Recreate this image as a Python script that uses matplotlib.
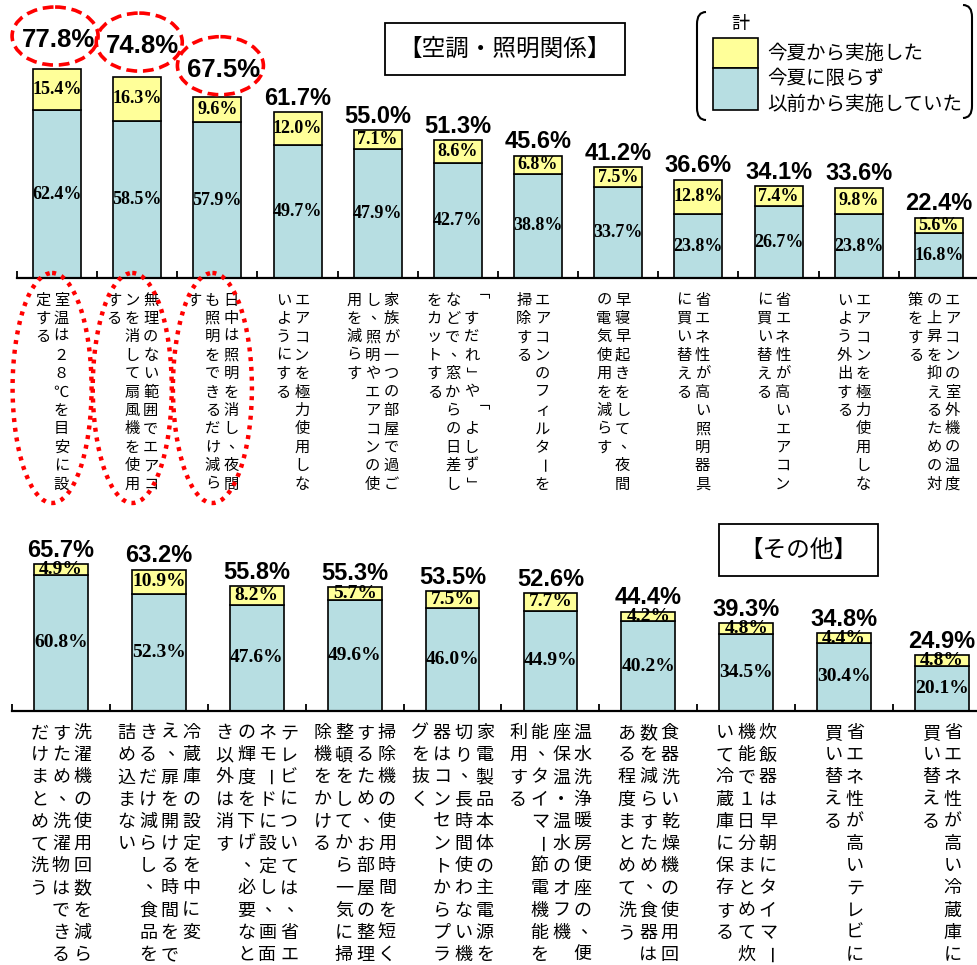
import numpy as np
import matplotlib
matplotlib.use("Agg")
import matplotlib.pyplot as plt
from matplotlib.patches import Rectangle, Ellipse, PathPatch
from matplotlib.path import Path

JP = "Noto Sans CJK JP"
plt.rcParams['font.family'] = [JP, 'DejaVu Sans']

# ---------------- data ----------------
top_categories = [
    ["室温は２８℃を目安に設", "定する"],
    ["無理のない範囲でエアコ", "ンを消して扇風機を使用", "する"],
    ["日中は照明を消し、夜間", "も照明をできるだけ減ら", "す"],
    ["エアコンを極力使用しな", "いようにする"],
    ["家族が一つの部屋で過ご", "し、照明やエアコンの使", "用を減らす"],
    ["「すだれ」や「よしず」", "などで、窓からの日差し", "をカットする"],
    ["エアコンのフィルターを", "掃除する"],
    ["早寝早起きをして、夜間", "の電気使用を減らす"],
    ["省エネ性が高い照明器具", "に買い替える"],
    ["省エネ性が高いエアコン", "に買い替える"],
    ["エアコンを極力使用しな", "いよう外出する"],
    ["エアコンの室外機の温度", "の上昇を抑えるための対", "策をする"],
]
top_previous = [62.4, 58.5, 57.9, 49.7, 47.9, 42.7, 38.8, 33.7, 23.8, 26.7, 23.8, 16.8]
top_new = [15.4, 16.3, 9.6, 12.0, 7.1, 8.6, 6.8, 7.5, 12.8, 7.4, 9.8, 5.6]
top_total = [77.8, 74.8, 67.5, 61.7, 55.0, 51.3, 45.6, 41.2, 36.6, 34.1, 33.6, 22.4]

bottom_categories = [
    ["洗濯機の使用回数を減ら", "すため、洗濯物はできる", "だけまとめて洗う"],
    ["冷蔵庫の設定を中に変", "え、扉を開ける時間をで", "きるだけ減らし、食品を", "詰め込まない"],
    ["テレビについては、省エ", "ネモードに設定し、画面", "の輝度を下げ、必要なと", "き以外は消す"],
    ["掃除機の使用時間を短く", "するため、お部屋の整理", "整頓をしてから一気に掃", "除機をかける"],
    ["家電製品本体の主電源を", "切り、長時間使わない機", "器はコンセントからプラ", "グを抜く"],
    ["温水洗浄暖房便座の、便", "座保温・温水のオフ機", "能、タイマー節電機能を", "利用する"],
    ["食器洗い乾燥機の使用回", "数を減らすため、食器は", "ある程度まとめて洗う"],
    ["炊飯器は早朝にタイマー", "機能で１日分まとめて炊", "いて冷蔵庫に保存する"],
    ["省エネ性が高いテレビに", "買い替える"],
    ["省エネ性が高い冷蔵庫に", "買い替える"],
]
bottom_previous = [60.8, 52.3, 47.6, 49.6, 46.0, 44.9, 40.2, 34.5, 30.4, 20.1]
bottom_new = [4.9, 10.9, 8.2, 5.7, 7.5, 7.7, 4.2, 4.8, 4.4, 4.8]
bottom_total = [65.7, 63.2, 55.8, 55.3, 53.5, 52.6, 44.4, 39.3, 34.8, 24.9]

panel_titles = ["【空調・照明関係】", "【その他】"]
legend_title = "計"
legend_new = "今夏から実施した"
legend_prev = ["今夏に限らず", "以前から実施していた"]

# ---------------- style ----------------
BLUE = "#B7DEE2"
YELLOW = "#FFFF99"
W, H, DPI = 978, 965, 100

fig = plt.figure(figsize=(W / DPI, H / DPI), dpi=DPI)
fig.patch.set_facecolor("white")


def px_axes(left, base_y, width, height):
    return fig.add_axes([left / W, 1 - base_y / H, width / W, height / H])


ax_top = px_axes(17, 278, 962, 268.6)
ax_bot = px_axes(12, 711, 979, 223.7)

ROT = set("ー「」")


def vertical_label(ax, i, cols, fs, shift, colsp, y0, pitch, pdx, pdy):
    n = len(cols)
    for j, col in enumerate(cols):
        dx = shift + ((n - 1) / 2 - j) * colsp
        for k, ch in enumerate(col):
            dy = -(y0 + k * pitch)
            rot = -90 if ch in ROT else 0
            ox, oy = (pdx, pdy) if ch == "、" else (0, 0)
            ax.annotate(ch, xy=(i, 0), xytext=(dx + ox, dy + oy),
                        textcoords="offset pixels", ha="center", va="center",
                        fontsize=fs, rotation=rot, annotation_clip=False,
                        family=[JP, "DejaVu Sans"])


def draw_panel(ax, cats, prev, new, total, bw, inner_fs, lab):
    n = len(cats)
    x = np.arange(n)
    prev = np.array(prev)
    new = np.array(new)
    ax.bar(x, prev, bw, color=BLUE, edgecolor="black", linewidth=1.2, zorder=2)
    ax.bar(x, new, bw, bottom=prev, color=YELLOW, edgecolor="black", linewidth=1.2, zorder=2)
    ax.set_xlim(-0.5, n - 0.5)
    ax.set_ylim(0, 100)
    for s in ["left", "right", "top"]:
        ax.spines[s].set_visible(False)
    ax.spines["bottom"].set_linewidth(1.6)
    ax.set_yticks([])
    ax.set_xticks(np.arange(-0.5, n, 1.0))
    ax.set_xticklabels([])
    ax.tick_params(axis="x", direction="in", length=5, width=1.3)
    ax.patch.set_alpha(0)
    for i in range(n):
        ax.text(i, prev[i] / 2, f"{prev[i]:.1f}%", ha="center", va="center",
                fontsize=inner_fs, fontweight="bold", family="Liberation Serif", zorder=3)
        ax.text(i, prev[i] + new[i] / 2, f"{new[i]:.1f}%", ha="center", va="center",
                fontsize=inner_fs, fontweight="bold", family="Liberation Serif", zorder=3)
        vertical_label(ax, i, cats[i], **lab)


draw_panel(ax_top, top_categories, top_previous, top_new, top_total, 0.6, 13,
           dict(fs=11, shift=-5, colsp=18.5, y0=22, pitch=18.4, pdx=5, pdy=4))
draw_panel(ax_bot, bottom_categories, bottom_previous, bottom_new, bottom_total, 0.55, 14,
           dict(fs=13, shift=0, colsp=21.5, y0=22, pitch=22.2, pdx=6, pdy=5))

# total labels
top_lift = {0: (1, 29), 1: (5, 31), 2: (6, 27)}
top_label_px = []
for i, t in enumerate(top_total):
    dx, dy = top_lift.get(i, (0, 14))
    fs = 18.5 if i in top_lift else 17
    ax_top.annotate(f"{t:.1f}%", xy=(i, t), xytext=(dx, dy), textcoords="offset pixels",
                    ha="center", va="center", fontsize=fs, fontweight="bold",
                    family="Liberation Sans", annotation_clip=False)
    xd, yd = ax_top.transData.transform((i, t))
    top_label_px.append((xd + dx, H - (yd + dy)))

for i, t in enumerate(bottom_total):
    ax_bot.annotate(f"{t:.1f}%", xy=(i, t), xytext=(0, 14), textcoords="offset pixels",
                    ha="center", va="center", fontsize=17, fontweight="bold",
                    family="Liberation Sans", annotation_clip=False)

# ---------------- overlay (pixel coordinates) ----------------
ov = fig.add_axes([0, 0, 1, 1], zorder=10)
ov.set_xlim(0, W)
ov.set_ylim(H, 0)
ov.axis("off")
ov.patch.set_alpha(0)

# red dashed ellipses around the top three totals
for i in range(3):
    lx, ly = top_label_px[i]
    ov.add_patch(Ellipse((lx - 3, ly - 4), 86, 58, fill=False, edgecolor="#FF0000",
                         linewidth=2.6, linestyle=(0, (3.0, 1.6))))
# red dotted ellipses around the top three category labels
base_top = H - ax_top.transData.transform((0, 0))[1]
for i in range(3):
    cx = ax_top.transData.transform((i, 0))[0] - 5
    ov.add_patch(Ellipse((cx, base_top + 110), 79, 230, fill=False, edgecolor="#FF0000",
                         linewidth=3.2, linestyle=(0, (0.9, 1.3))))

# panel title boxes
ov.add_patch(Rectangle((385, 23), 240, 52, fill=True, facecolor="white",
                       edgecolor="black", linewidth=1.3))
ov.text(505, 49, panel_titles[0], ha="center", va="center", fontsize=17)
ov.add_patch(Rectangle((719, 524), 159, 52, fill=True, facecolor="white",
                       edgecolor="black", linewidth=1.3))
ov.text(798.5, 550, panel_titles[1], ha="center", va="center", fontsize=17)

# legend
ov.add_patch(PathPatch(Path([(706, 12), (697, 12), (697, 24), (697, 108), (697, 120), (706, 120)],
                            [Path.MOVETO, Path.CURVE3, Path.CURVE3, Path.LINETO,
                             Path.CURVE3, Path.CURVE3]),
                       fill=False, edgecolor="black", linewidth=1.5))
ov.add_patch(PathPatch(Path([(963, 5), (972, 5), (972, 17), (972, 106), (972, 118), (963, 118)],
                            [Path.MOVETO, Path.CURVE3, Path.CURVE3, Path.LINETO,
                             Path.CURVE3, Path.CURVE3]),
                       fill=False, edgecolor="black", linewidth=1.5))
ov.text(740, 24, legend_title, ha="center", va="center", fontsize=13)
ov.add_patch(Rectangle((713, 38), 45, 30, facecolor=YELLOW, edgecolor="black", linewidth=1.2))
ov.add_patch(Rectangle((713, 68), 45, 42, facecolor=BLUE, edgecolor="black", linewidth=1.2))
ov.text(767, 53, legend_new, ha="left", va="center", fontsize=14)
ov.text(767, 79, legend_prev[0], ha="left", va="center", fontsize=14)
ov.text(767, 104, legend_prev[1], ha="left", va="center", fontsize=14)

fig.savefig("out.png", dpi=DPI)
